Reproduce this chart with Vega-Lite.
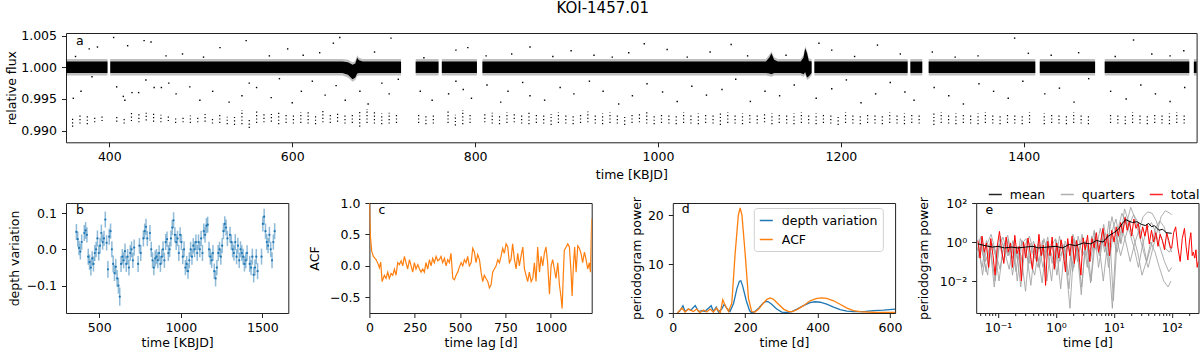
{
  "$schema": "https://vega.github.io/schema/vega-lite/v6.json",
  "background": "white",
  "padding": {"left": 5, "top": 0, "right": 0, "bottom": 0},
  "title": {"text": "KOI-1457.01", "fontSize": 15, "font": "DejaVu Sans", "fontWeight": "normal", "color": "black", "anchor": "middle", "offset": 13.2},
  "config": {
    "font": "DejaVu Sans",
    "view": {"stroke": "#222222", "strokeWidth": 1},
    "axis": {"grid": false, "domain": false, "ticks": true, "tickColor": "#222222", "tickSize": 4.5, "tickWidth": 1, "labelFontSize": 12.5, "labelColor": "black", "labelPadding": 3.5, "labelFlush": false, "labelOverlap": false, "titleFontSize": 12.5, "titleFontWeight": "normal", "titleColor": "black", "titlePadding": 3},
    "axisY": {"labelPadding": 5},
    "legend": {"labelFontSize": 12.5, "labelColor": "black", "symbolType": "stroke", "symbolSize": 169, "symbolStrokeWidth": 1.5, "labelOffset": 7}
  },
  "datasets": {
    "band": [
      {"s":1,"t":352.6,"lo":0.9991,"hi":1.0009,"l2":0.9987,"h2":1.0013},
      {"s":1,"t":398,"lo":0.9991,"hi":1.0009,"l2":0.9987,"h2":1.0013},
      {"s":2,"t":401,"lo":0.9991,"hi":1.0009,"l2":0.9987,"h2":1.0013},
      {"s":2,"t":655,"lo":0.9991,"hi":1.0009,"l2":0.9987,"h2":1.0013},
      {"s":2,"t":661,"lo":0.9988,"hi":1.0008,"l2":0.9984,"h2":1.0012},
      {"s":2,"t":666,"lo":0.9981,"hi":1.0004,"l2":0.9977,"h2":1.0008},
      {"s":2,"t":669,"lo":0.9984,"hi":1.0006,"l2":0.998,"h2":1.001},
      {"s":2,"t":671,"lo":0.999,"hi":1.0015,"l2":0.9986,"h2":1.0019},
      {"s":2,"t":673,"lo":0.9991,"hi":1.0011,"l2":0.9987,"h2":1.0015},
      {"s":2,"t":677,"lo":0.9991,"hi":1.0009,"l2":0.9987,"h2":1.0013},
      {"s":2,"t":719,"lo":0.9991,"hi":1.0009,"l2":0.9987,"h2":1.0013},
      {"s":3,"t":735,"lo":0.9991,"hi":1.0009,"l2":0.9987,"h2":1.0013},
      {"s":3,"t":760,"lo":0.9991,"hi":1.0009,"l2":0.9987,"h2":1.0013},
      {"s":4,"t":763.6,"lo":0.9991,"hi":1.0009,"l2":0.9987,"h2":1.0013},
      {"s":4,"t":802,"lo":0.9991,"hi":1.0009,"l2":0.9987,"h2":1.0013},
      {"s":5,"t":808,"lo":0.9991,"hi":1.0009,"l2":0.9987,"h2":1.0013},
      {"s":5,"t":1118,"lo":0.9991,"hi":1.0009,"l2":0.9987,"h2":1.0013},
      {"s":5,"t":1122,"lo":0.999,"hi":1.0016,"l2":0.9986,"h2":1.002},
      {"s":5,"t":1124,"lo":0.9989,"hi":1.0022,"l2":0.9985,"h2":1.0025},
      {"s":5,"t":1127,"lo":0.9991,"hi":1.0012,"l2":0.9987,"h2":1.0016},
      {"s":5,"t":1131,"lo":0.9991,"hi":1.0009,"l2":0.9987,"h2":1.0013},
      {"s":5,"t":1156,"lo":0.9991,"hi":1.0009,"l2":0.9987,"h2":1.0013},
      {"s":5,"t":1159,"lo":0.9989,"hi":1.0015,"l2":0.9985,"h2":1.0019},
      {"s":5,"t":1161,"lo":0.9992,"hi":1.003,"l2":0.9988,"h2":1.0033},
      {"s":5,"t":1163,"lo":0.9984,"hi":1.0022,"l2":0.998,"h2":1.0026},
      {"s":5,"t":1165,"lo":0.9986,"hi":1.001,"l2":0.9982,"h2":1.0014},
      {"s":5,"t":1168,"lo":0.9991,"hi":1.0009,"l2":0.9987,"h2":1.0013},
      {"s":6,"t":1171,"lo":0.9991,"hi":1.0009,"l2":0.9987,"h2":1.0013},
      {"s":6,"t":1273,"lo":0.9991,"hi":1.0009,"l2":0.9987,"h2":1.0013},
      {"s":7,"t":1276,"lo":0.9991,"hi":1.0009,"l2":0.9987,"h2":1.0013},
      {"s":7,"t":1289,"lo":0.9991,"hi":1.0009,"l2":0.9987,"h2":1.0013},
      {"s":8,"t":1296,"lo":0.9991,"hi":1.0009,"l2":0.9987,"h2":1.0013},
      {"s":8,"t":1412.6,"lo":0.9991,"hi":1.0009,"l2":0.9987,"h2":1.0013},
      {"s":9,"t":1417.5,"lo":0.9991,"hi":1.0009,"l2":0.9987,"h2":1.0013},
      {"s":9,"t":1478,"lo":0.9991,"hi":1.0009,"l2":0.9987,"h2":1.0013},
      {"s":10,"t":1488.5,"lo":0.9991,"hi":1.0009,"l2":0.9987,"h2":1.0013},
      {"s":10,"t":1581,"lo":0.9991,"hi":1.0009,"l2":0.9987,"h2":1.0013},
      {"s":11,"t":1586,"lo":0.9991,"hi":1.0009,"l2":0.9987,"h2":1.0013},
      {"s":11,"t":1589,"lo":0.9991,"hi":1.0009,"l2":0.9987,"h2":1.0013}
    ],
    "tr": [
      {"t":359.8,"lo":0.9906,"hi":0.9922,"d":0.048,"e":0.022},
      {"t":367.9,"lo":0.9911,"hi":0.9924,"d":0.028,"e":0.021},
      {"t":375.9,"lo":0.991,"hi":0.9926,"d":0.004,"e":0.02},
      {"t":384.0,"lo":0.9913,"hi":0.9921,"d":-0.006,"e":0.022},
      {"t":392.0,"lo":0.9915,"hi":0.9925,"d":0.02,"e":0.021},
      {"t":408.1,"lo":0.9914,"hi":0.9922,"d":0.045,"e":0.022},
      {"t":416.2,"lo":0.9911,"hi":0.992,"d":0.052,"e":0.023},
      {"t":424.2,"lo":0.9915,"hi":0.9929,"d":0.04,"e":0.021},
      {"t":432.3,"lo":0.9913,"hi":0.9927,"d":-0.02,"e":0.022},
      {"t":440.3,"lo":0.9916,"hi":0.9928,"d":-0.035,"e":0.021},
      {"t":448.4,"lo":0.9914,"hi":0.9927,"d":-0.05,"e":0.022},
      {"t":456.4,"lo":0.9913,"hi":0.9925,"d":-0.025,"e":0.02},
      {"t":464.5,"lo":0.9915,"hi":0.9924,"d":-0.04,"e":0.021},
      {"t":472.5,"lo":0.9912,"hi":0.9921,"d":-0.01,"e":0.022},
      {"t":480.6,"lo":0.9913,"hi":0.9922,"d":0.0,"e":0.021},
      {"t":488.6,"lo":0.9912,"hi":0.9924,"d":0.03,"e":0.022},
      {"t":496.7,"lo":0.9913,"hi":0.9921,"d":-0.01,"e":0.021},
      {"t":504.7,"lo":0.9914,"hi":0.9926,"d":0.01,"e":0.022},
      {"t":512.8,"lo":0.9911,"hi":0.9922,"d":0.045,"e":0.023},
      {"t":520.8,"lo":0.9912,"hi":0.9925,"d":0.02,"e":0.021},
      {"t":528.9,"lo":0.991,"hi":0.9922,"d":0.03,"e":0.021},
      {"t":536.9,"lo":0.9909,"hi":0.9922,"d":0.082,"e":0.022},
      {"t":545.0,"lo":0.991,"hi":0.9932,"d":0.018,"e":0.021},
      {"t":553.0,"lo":0.9904,"hi":0.9919,"d":-0.055,"e":0.023},
      {"t":561.1,"lo":0.9912,"hi":0.993,"d":0.035,"e":0.022},
      {"t":569.1,"lo":0.9913,"hi":0.9928,"d":0.05,"e":0.021},
      {"t":577.2,"lo":0.9914,"hi":0.9926,"d":0.0,"e":0.022},
      {"t":585.2,"lo":0.991,"hi":0.993,"d":-0.04,"e":0.023},
      {"t":593.3,"lo":0.9912,"hi":0.9927,"d":-0.065,"e":0.022},
      {"t":601.3,"lo":0.9911,"hi":0.9925,"d":-0.048,"e":0.022},
      {"t":609.4,"lo":0.9912,"hi":0.9929,"d":-0.08,"e":0.023},
      {"t":617.4,"lo":0.9911,"hi":0.9931,"d":-0.1,"e":0.022},
      {"t":625.5,"lo":0.991,"hi":0.9926,"d":-0.13,"e":0.025},
      {"t":633.5,"lo":0.9913,"hi":0.9932,"d":-0.04,"e":0.022},
      {"t":641.6,"lo":0.9912,"hi":0.9928,"d":-0.02,"e":0.021},
      {"t":649.6,"lo":0.9914,"hi":0.9929,"d":-0.03,"e":0.022},
      {"t":657.7,"lo":0.9911,"hi":0.9927,"d":-0.005,"e":0.021},
      {"t":665.7,"lo":0.9912,"hi":0.9926,"d":-0.04,"e":0.022},
      {"t":673.8,"lo":0.9906,"hi":0.993,"d":-0.02,"e":0.021},
      {"t":681.8,"lo":0.9912,"hi":0.9934,"d":-0.05,"e":0.022},
      {"t":689.9,"lo":0.9911,"hi":0.9929,"d":-0.01,"e":0.021},
      {"t":697.9,"lo":0.991,"hi":0.9927,"d":0.0,"e":0.022},
      {"t":706.0,"lo":0.9911,"hi":0.9928,"d":-0.03,"e":0.021},
      {"t":714.0,"lo":0.9912,"hi":0.9926,"d":0.005,"e":0.022},
      {"t":738.2,"lo":0.9912,"hi":0.9925,"d":-0.04,"e":0.022},
      {"t":746.2,"lo":0.991,"hi":0.9924,"d":0.01,"e":0.021},
      {"t":754.3,"lo":0.9911,"hi":0.9926,"d":-0.01,"e":0.022},
      {"t":770.4,"lo":0.9912,"hi":0.993,"d":0.03,"e":0.022},
      {"t":778.4,"lo":0.9908,"hi":0.9925,"d":0.05,"e":0.021},
      {"t":786.5,"lo":0.991,"hi":0.9932,"d":0.062,"e":0.022},
      {"t":794.5,"lo":0.9912,"hi":0.9928,"d":0.03,"e":0.021},
      {"t":810.6,"lo":0.9913,"hi":0.9927,"d":0.045,"e":0.022},
      {"t":818.7,"lo":0.9911,"hi":0.9928,"d":0.0,"e":0.021},
      {"t":826.7,"lo":0.991,"hi":0.9926,"d":-0.03,"e":0.022},
      {"t":834.8,"lo":0.9912,"hi":0.9929,"d":-0.05,"e":0.021},
      {"t":842.8,"lo":0.9913,"hi":0.9927,"d":-0.025,"e":0.022},
      {"t":850.9,"lo":0.9911,"hi":0.9926,"d":-0.02,"e":0.021},
      {"t":858.9,"lo":0.991,"hi":0.9928,"d":-0.03,"e":0.022},
      {"t":867.0,"lo":0.9912,"hi":0.9925,"d":-0.01,"e":0.021},
      {"t":875.0,"lo":0.9911,"hi":0.9927,"d":-0.04,"e":0.022},
      {"t":883.1,"lo":0.9909,"hi":0.9926,"d":-0.02,"e":0.021},
      {"t":891.1,"lo":0.9912,"hi":0.9929,"d":0.0,"e":0.022},
      {"t":899.2,"lo":0.9911,"hi":0.9927,"d":-0.03,"e":0.021},
      {"t":907.2,"lo":0.991,"hi":0.9925,"d":0.02,"e":0.022},
      {"t":915.3,"lo":0.9912,"hi":0.9928,"d":0.028,"e":0.021},
      {"t":923.3,"lo":0.9913,"hi":0.993,"d":-0.01,"e":0.022},
      {"t":931.4,"lo":0.9911,"hi":0.9926,"d":0.0,"e":0.021},
      {"t":939.4,"lo":0.991,"hi":0.9927,"d":0.03,"e":0.022},
      {"t":947.5,"lo":0.9912,"hi":0.9929,"d":0.06,"e":0.021},
      {"t":955.5,"lo":0.9911,"hi":0.9926,"d":0.08,"e":0.022},
      {"t":963.6,"lo":0.9909,"hi":0.9925,"d":0.04,"e":0.021},
      {"t":971.6,"lo":0.9912,"hi":0.9928,"d":0.02,"e":0.022},
      {"t":979.7,"lo":0.9913,"hi":0.9927,"d":0.03,"e":0.021},
      {"t":987.7,"lo":0.9911,"hi":0.9929,"d":-0.01,"e":0.022},
      {"t":995.8,"lo":0.991,"hi":0.9926,"d":0.04,"e":0.021},
      {"t":1003.8,"lo":0.9912,"hi":0.9928,"d":0.02,"e":0.022},
      {"t":1011.9,"lo":0.9911,"hi":0.9927,"d":-0.02,"e":0.021},
      {"t":1019.9,"lo":0.991,"hi":0.9925,"d":0.0,"e":0.022},
      {"t":1028.0,"lo":0.9912,"hi":0.9929,"d":-0.05,"e":0.021},
      {"t":1036.0,"lo":0.9911,"hi":0.9926,"d":-0.04,"e":0.022},
      {"t":1044.1,"lo":0.991,"hi":0.9927,"d":-0.06,"e":0.021},
      {"t":1052.1,"lo":0.9912,"hi":0.9928,"d":-0.03,"e":0.022},
      {"t":1060.2,"lo":0.9911,"hi":0.9926,"d":0.0,"e":0.021},
      {"t":1068.2,"lo":0.9909,"hi":0.9927,"d":-0.02,"e":0.022},
      {"t":1076.3,"lo":0.9912,"hi":0.9929,"d":0.01,"e":0.021},
      {"t":1084.3,"lo":0.9911,"hi":0.9925,"d":0.0,"e":0.022},
      {"t":1092.4,"lo":0.991,"hi":0.9927,"d":0.02,"e":0.021},
      {"t":1100.4,"lo":0.9912,"hi":0.9928,"d":-0.01,"e":0.022},
      {"t":1108.5,"lo":0.9911,"hi":0.9926,"d":0.02,"e":0.021},
      {"t":1116.5,"lo":0.9913,"hi":0.9929,"d":0.0,"e":0.022},
      {"t":1124.6,"lo":0.991,"hi":0.9927,"d":0.03,"e":0.021},
      {"t":1132.6,"lo":0.9912,"hi":0.9928,"d":-0.01,"e":0.022},
      {"t":1140.7,"lo":0.9911,"hi":0.9926,"d":0.05,"e":0.021},
      {"t":1148.7,"lo":0.991,"hi":0.9927,"d":0.04,"e":0.022},
      {"t":1156.8,"lo":0.9912,"hi":0.9929,"d":0.065,"e":0.021},
      {"t":1164.8,"lo":0.9911,"hi":0.9926,"d":0.068,"e":0.022},
      {"t":1172.9,"lo":0.991,"hi":0.9927,"d":0.0,"e":0.021},
      {"t":1180.9,"lo":0.9912,"hi":0.9928,"d":-0.02,"e":0.022},
      {"t":1189.0,"lo":0.9911,"hi":0.9926,"d":-0.03,"e":0.021},
      {"t":1197.0,"lo":0.9909,"hi":0.9925,"d":-0.01,"e":0.022},
      {"t":1205.1,"lo":0.9912,"hi":0.9929,"d":-0.06,"e":0.021},
      {"t":1213.1,"lo":0.9911,"hi":0.9927,"d":-0.08,"e":0.022},
      {"t":1221.2,"lo":0.991,"hi":0.9926,"d":-0.05,"e":0.021},
      {"t":1229.2,"lo":0.9912,"hi":0.9928,"d":-0.01,"e":0.022},
      {"t":1237.3,"lo":0.9911,"hi":0.9927,"d":0.0,"e":0.021},
      {"t":1245.3,"lo":0.991,"hi":0.9925,"d":-0.02,"e":0.022},
      {"t":1253.4,"lo":0.9912,"hi":0.9929,"d":0.01,"e":0.021},
      {"t":1261.4,"lo":0.9911,"hi":0.9926,"d":0.05,"e":0.022},
      {"t":1269.5,"lo":0.991,"hi":0.9927,"d":0.07,"e":0.021},
      {"t":1277.5,"lo":0.9912,"hi":0.9928,"d":0.06,"e":0.022},
      {"t":1285.6,"lo":0.9911,"hi":0.9926,"d":0.03,"e":0.021},
      {"t":1301.7,"lo":0.9909,"hi":0.9927,"d":0.04,"e":0.022},
      {"t":1309.7,"lo":0.9912,"hi":0.9929,"d":0.02,"e":0.021},
      {"t":1317.8,"lo":0.9911,"hi":0.9926,"d":0.0,"e":0.022},
      {"t":1325.8,"lo":0.991,"hi":0.9927,"d":-0.01,"e":0.021},
      {"t":1333.9,"lo":0.9912,"hi":0.9928,"d":0.02,"e":0.022},
      {"t":1341.9,"lo":0.9911,"hi":0.9926,"d":-0.02,"e":0.021},
      {"t":1350.0,"lo":0.991,"hi":0.9927,"d":0.01,"e":0.022},
      {"t":1358.0,"lo":0.9912,"hi":0.9929,"d":-0.03,"e":0.021},
      {"t":1366.1,"lo":0.9911,"hi":0.9926,"d":0.0,"e":0.022},
      {"t":1374.1,"lo":0.991,"hi":0.9925,"d":-0.01,"e":0.021},
      {"t":1382.2,"lo":0.9912,"hi":0.9928,"d":-0.02,"e":0.022},
      {"t":1390.2,"lo":0.9911,"hi":0.9927,"d":-0.04,"e":0.021},
      {"t":1398.3,"lo":0.991,"hi":0.9926,"d":-0.03,"e":0.022},
      {"t":1406.3,"lo":0.9912,"hi":0.9929,"d":-0.01,"e":0.021},
      {"t":1422.4,"lo":0.991,"hi":0.9927,"d":-0.04,"e":0.022},
      {"t":1430.5,"lo":0.9912,"hi":0.9928,"d":-0.05,"e":0.021},
      {"t":1438.5,"lo":0.9911,"hi":0.9926,"d":-0.02,"e":0.022},
      {"t":1446.6,"lo":0.991,"hi":0.9925,"d":-0.07,"e":0.021},
      {"t":1454.6,"lo":0.9912,"hi":0.9929,"d":-0.05,"e":0.022},
      {"t":1462.7,"lo":0.9911,"hi":0.9927,"d":-0.02,"e":0.021},
      {"t":1470.7,"lo":0.991,"hi":0.9926,"d":-0.06,"e":0.022},
      {"t":1494.9,"lo":0.9912,"hi":0.9928,"d":-0.02,"e":0.022},
      {"t":1502.9,"lo":0.9911,"hi":0.9927,"d":0.07,"e":0.021},
      {"t":1511.0,"lo":0.991,"hi":0.9926,"d":0.09,"e":0.022},
      {"t":1519.0,"lo":0.9912,"hi":0.9929,"d":0.05,"e":0.021},
      {"t":1527.1,"lo":0.9911,"hi":0.9927,"d":0.02,"e":0.022},
      {"t":1535.1,"lo":0.991,"hi":0.9925,"d":0.01,"e":0.021},
      {"t":1543.2,"lo":0.9912,"hi":0.9928,"d":0.04,"e":0.022},
      {"t":1551.2,"lo":0.9911,"hi":0.9926,"d":0.0,"e":0.021},
      {"t":1559.3,"lo":0.991,"hi":0.9927,"d":-0.03,"e":0.022},
      {"t":1567.3,"lo":0.9912,"hi":0.9929,"d":0.02,"e":0.021},
      {"t":1575.4,"lo":0.9911,"hi":0.9926,"d":0.05,"e":0.022}
    ],
    "out": [
      {"t":363,"f":1.0017},{"t":378,"f":1.0029},{"t":387,"f":1.0032},{"t":404.7,"f":1.0047},{"t":420,"f":1.0034},{"t":438,"f":1.0042},{"t":445.6,"f":1.004},{"t":462,"f":1.0018},{"t":480,"f":1.0021},{"t":503,"f":1.0016},{"t":521,"f":1.0031},{"t":549.6,"f":1.0042},{"t":575,"f":1.0018},{"t":595,"f":1.0029},{"t":612,"f":1.0019},{"t":630,"f":1.0023},{"t":645,"f":1.0038},{"t":652,"f":1.0047},{"t":690,"f":1.0024},{"t":708,"f":1.0046},{"t":744,"f":1.0015},{"t":779,"f":1.0027},{"t":792,"f":1.0031},{"t":812,"f":1.0018},{"t":840,"f":1.0021},{"t":860,"f":1.0032},{"t":885,"f":1.0017},{"t":905,"f":1.0026},{"t":930,"f":1.0019},{"t":950,"f":1.0016},{"t":968,"f":1.0023},{"t":985,"f":1.0037},{"t":1010,"f":1.0028},{"t":1032,"f":1.0016},{"t":1057,"f":1.0024},{"t":1080,"f":1.0036},{"t":1098,"f":1.0018},{"t":1140,"f":1.0019},{"t":1176,"f":1.0038},{"t":1190,"f":1.0027},{"t":1215,"f":1.0017},{"t":1240,"f":1.0035},{"t":1265,"f":1.0021},{"t":1300,"f":1.0024},{"t":1325,"f":1.0016},{"t":1350,"f":1.0018},{"t":1390,"f":1.0046},{"t":1405,"f":1.0022},{"t":1430,"f":1.0019},{"t":1460,"f":1.0023},{"t":1500,"f":1.0017},{"t":1520,"f":1.0043},{"t":1540,"f":1.0021},{"t":1560,"f":1.0018},{"t":1575,"f":1.0026},
      {"t":360.6,"f":0.9951},{"t":369,"f":0.9962},{"t":381,"f":0.9985},{"t":408,"f":0.9969},{"t":415.3,"f":0.9954},{"t":417,"f":0.9948},{"t":424.8,"f":0.996},{"t":432,"f":0.996},{"t":440,"f":0.998},{"t":449,"f":0.9968},{"t":456.9,"f":0.9968},{"t":465,"f":0.9975},{"t":473,"f":0.9958},{"t":488,"f":0.9969},{"t":499,"f":0.9948},{"t":513,"f":0.9962},{"t":531,"f":0.9945},{"t":545,"f":0.9955},{"t":553,"f":0.9975},{"t":561,"f":0.9968},{"t":577,"f":0.9952},{"t":586,"f":0.9982},{"t":600,"f":0.9944},{"t":610,"f":0.9962},{"t":622,"f":0.9978},{"t":636,"f":0.9956},{"t":648,"f":0.9971},{"t":658,"f":0.9948},{"t":674,"f":0.9962},{"t":683,"f":0.9942},{"t":698,"f":0.9975},{"t":706,"f":0.9958},{"t":716,"f":0.9981},{"t":740,"f":0.9962},{"t":753,"f":0.9948},{"t":771,"f":0.9958},{"t":779,"f":0.9978},{"t":787,"f":0.9965},{"t":796,"f":0.9951},{"t":813,"f":0.9972},{"t":828,"f":0.9945},{"t":836,"f":0.9962},{"t":852,"f":0.9976},{"t":860,"f":0.9955},{"t":876,"f":0.9948},{"t":893,"f":0.9968},{"t":908,"f":0.9958},{"t":925,"f":0.9978},{"t":940,"f":0.9962},{"t":957,"f":0.9942},{"t":972,"f":0.9955},{"t":988,"f":0.9974},{"t":1005,"f":0.9961},{"t":1021,"f":0.9946},{"t":1037,"f":0.997},{"t":1053,"f":0.9956},{"t":1070,"f":0.9965},{"t":1085,"f":0.9981},{"t":1101,"f":0.9946},{"t":1117,"f":0.9962},{"t":1133,"f":0.9955},{"t":1149,"f":0.9972},{"t":1173,"f":0.9951},{"t":1190,"f":0.9966},{"t":1206,"f":0.998},{"t":1222,"f":0.9944},{"t":1238,"f":0.9958},{"t":1254,"f":0.9976},{"t":1270,"f":0.9961},{"t":1280,"f":0.9948},{"t":1302,"f":0.9968},{"t":1318,"f":0.9955},{"t":1334,"f":0.9942},{"t":1351,"f":0.9974},{"t":1367,"f":0.9962},{"t":1383,"f":0.9951},{"t":1399,"f":0.9978},{"t":1423,"f":0.9958},{"t":1439,"f":0.9967},{"t":1455,"f":0.9945},{"t":1471,"f":0.9982},{"t":1495,"f":0.9962},{"t":1512,"f":0.995},{"t":1528,"f":0.9972},{"t":1544,"f":0.9958},{"t":1560,"f":0.9946},{"t":1576,"f":0.9968}
    ],
    "acf": [
      {"l":0,"a":1.0},{"l":5.5,"a":0.47},{"l":12.9,"a":0.23},{"l":22,"a":0.15},{"l":36.8,"a":0.1},{"l":49.6,"a":0.02},{"l":55,"a":-0.03},{"l":62.5,"a":0.06},{"l":69.9,"a":-0.25},{"l":82.7,"a":-0.15},{"l":91.9,"a":-0.2},{"l":101,"a":-0.1},{"l":110,"a":-0.2},{"l":119.5,"a":-0.12},{"l":128.7,"a":-0.15},{"l":137.9,"a":-0.05},{"l":147,"a":-0.15},{"l":156,"a":0.05},{"l":165,"a":0.02},{"l":175,"a":0.08},{"l":184,"a":0.0},{"l":193,"a":0.15},{"l":202,"a":0.05},{"l":211,"a":-0.05},{"l":221,"a":0.1},{"l":230,"a":0.0},{"l":239,"a":-0.1},{"l":248,"a":0.05},{"l":257,"a":-0.05},{"l":267,"a":0.02},{"l":276,"a":-0.05},{"l":285,"a":-0.1},{"l":294,"a":-0.05},{"l":303,"a":-0.1},{"l":312,"a":0.05},{"l":322,"a":-0.05},{"l":331,"a":0.1},{"l":340,"a":0.0},{"l":349,"a":0.12},{"l":358,"a":0.05},{"l":368,"a":0.15},{"l":377,"a":0.08},{"l":386,"a":0.1},{"l":395,"a":0.15},{"l":404,"a":0.05},{"l":414,"a":0.12},{"l":423,"a":0.0},{"l":432,"a":0.1},{"l":441,"a":0.05},{"l":450,"a":0.2},{"l":460,"a":-0.2},{"l":469,"a":-0.22},{"l":478,"a":-0.15},{"l":487,"a":-0.1},{"l":496,"a":-0.02},{"l":506,"a":0.05},{"l":515,"a":0.0},{"l":524,"a":0.1},{"l":533,"a":0.05},{"l":542,"a":0.15},{"l":551,"a":0.0},{"l":561,"a":0.05},{"l":570,"a":0.28},{"l":579,"a":0.22},{"l":588,"a":0.05},{"l":597,"a":0.18},{"l":607,"a":0.1},{"l":616,"a":-0.1},{"l":625,"a":-0.25},{"l":634,"a":-0.15},{"l":643,"a":-0.2},{"l":653,"a":-0.25},{"l":662,"a":-0.35},{"l":671,"a":-0.3},{"l":680,"a":-0.1},{"l":689,"a":-0.05},{"l":699,"a":0.0},{"l":708,"a":0.1},{"l":717,"a":0.05},{"l":726,"a":0.15},{"l":735,"a":0.28},{"l":744,"a":0.2},{"l":754,"a":0.35},{"l":763,"a":0.3},{"l":772,"a":0.05},{"l":781,"a":0.1},{"l":790,"a":0.35},{"l":800,"a":0.1},{"l":809,"a":-0.05},{"l":818,"a":0.2},{"l":827,"a":0.0},{"l":836,"a":0.15},{"l":846,"a":0.3},{"l":855,"a":-0.05},{"l":864,"a":-0.15},{"l":873,"a":-0.25},{"l":882,"a":-0.1},{"l":892,"a":-0.25},{"l":901,"a":-0.2},{"l":910,"a":0.05},{"l":919,"a":-0.25},{"l":928,"a":0.3},{"l":938,"a":-0.1},{"l":947,"a":0.15},{"l":956,"a":0.0},{"l":965,"a":0.2},{"l":974,"a":0.3},{"l":983,"a":0.05},{"l":993,"a":-0.45},{"l":1002,"a":0.0},{"l":1011,"a":0.1},{"l":1020,"a":-0.05},{"l":1029,"a":-0.2},{"l":1039,"a":0.05},{"l":1048,"a":-0.3},{"l":1057,"a":-0.5},{"l":1063,"a":-0.68},{"l":1070,"a":-0.1},{"l":1075,"a":0.25},{"l":1085,"a":0.3},{"l":1094,"a":0.35},{"l":1103,"a":0.3},{"l":1112,"a":-0.1},{"l":1118,"a":-0.48},{"l":1125,"a":0.0},{"l":1132,"a":0.3},{"l":1140,"a":-0.1},{"l":1149,"a":0.32},{"l":1158,"a":0.28},{"l":1167,"a":0.2},{"l":1176,"a":0.05},{"l":1186,"a":0.22},{"l":1195,"a":0.1},{"l":1204,"a":-0.05},{"l":1213,"a":0.05},{"l":1219,"a":-0.1},{"l":1226,"a":0.75}
    ],
    "pdv": [
      {"t":13,"p":0.0},{"t":20,"p":0.5},{"t":28,"p":1.5},{"t":34,"p":0.3},{"t":43,"p":0.8},{"t":50,"p":0.6},{"t":62,"p":1.5},{"t":71,"p":0.3},{"t":80,"p":0.5},{"t":89,"p":0.3},{"t":96,"p":0.8},{"t":106,"p":1.5},{"t":112,"p":0.3},{"t":120,"p":1.2},{"t":126,"p":0.2},{"t":135,"p":0.8},{"t":142,"p":1.8},{"t":149,"p":1.0},{"t":158,"p":0.3},{"t":168,"p":2.0},{"t":177,"p":5.0},{"t":184,"p":6.5},{"t":188,"p":6.6},{"t":193,"p":5.5},{"t":203,"p":2.5},{"t":212,"p":0.5},{"t":218,"p":0.0},{"t":227,"p":0.3},{"t":237,"p":1.0},{"t":249,"p":2.0},{"t":258,"p":2.4},{"t":264,"p":2.3},{"t":273,"p":1.8},{"t":287,"p":0.8},{"t":301,"p":0.2},{"t":315,"p":0.1},{"t":329,"p":0.3},{"t":343,"p":0.8},{"t":361,"p":1.5},{"t":379,"p":2.1},{"t":393,"p":2.3},{"t":407,"p":2.2},{"t":425,"p":1.8},{"t":444,"p":1.2},{"t":462,"p":0.7},{"t":481,"p":0.4},{"t":499,"p":0.3},{"t":527,"p":0.3},{"t":554,"p":0.5},{"t":582,"p":0.6},{"t":614,"p":0.8}
    ],
    "pacf": [
      {"t":13,"p":0.0},{"t":25,"p":1.0},{"t":34,"p":0.2},{"t":43,"p":0.8},{"t":57,"p":0.3},{"t":66,"p":0.8},{"t":75,"p":0.1},{"t":85,"p":0.6},{"t":94,"p":0.2},{"t":103,"p":0.8},{"t":112,"p":0.2},{"t":121,"p":1.0},{"t":131,"p":0.0},{"t":138,"p":2.7},{"t":145,"p":1.5},{"t":154,"p":0.3},{"t":163,"p":2.0},{"t":172,"p":12},{"t":181,"p":20},{"t":186,"p":21.5},{"t":191,"p":20},{"t":200,"p":12},{"t":209,"p":3},{"t":218,"p":0.3},{"t":227,"p":0.2},{"t":237,"p":0.8},{"t":250,"p":2.0},{"t":260,"p":2.8},{"t":269,"p":3.1},{"t":278,"p":2.8},{"t":292,"p":1.8},{"t":306,"p":0.8},{"t":320,"p":0.3},{"t":329,"p":0.3},{"t":343,"p":0.7},{"t":361,"p":1.5},{"t":379,"p":2.5},{"t":398,"p":3.0},{"t":412,"p":3.1},{"t":425,"p":3.0},{"t":444,"p":2.5},{"t":462,"p":1.8},{"t":481,"p":1.0},{"t":499,"p":0.5},{"t":517,"p":0.3},{"t":536,"p":0.2},{"t":564,"p":0.1},{"t":591,"p":0.1},{"t":614,"p":0.1}
    ],
    "eq": [
      {"q":1,"t":0.045,"p":0.5},{"q":1,"t":0.053,"p":0.05},{"q":1,"t":0.063,"p":1.2},{"q":1,"t":0.075,"p":0.3},{"q":1,"t":0.089,"p":0.01},{"q":1,"t":0.106,"p":0.8},{"q":1,"t":0.126,"p":0.1},{"q":1,"t":0.15,"p":1.5},{"q":1,"t":0.178,"p":0.02},{"q":1,"t":0.211,"p":0.6},{"q":1,"t":0.251,"p":0.2},{"q":1,"t":0.299,"p":0.003},{"q":1,"t":0.355,"p":0.9},{"q":1,"t":0.422,"p":0.15},{"q":1,"t":0.501,"p":1.0},{"q":1,"t":0.596,"p":0.05},{"q":1,"t":0.708,"p":0.5},{"q":1,"t":0.841,"p":0.01},{"q":1,"t":1.0,"p":1.3},{"q":1,"t":1.19,"p":0.2},{"q":1,"t":1.41,"p":0.6},{"q":1,"t":1.68,"p":0.004},{"q":1,"t":2.0,"p":1.5},{"q":1,"t":2.37,"p":0.1},{"q":1,"t":2.82,"p":2.5},{"q":1,"t":3.35,"p":0.3},{"q":1,"t":3.98,"p":0.008},{"q":1,"t":4.73,"p":3},{"q":1,"t":5.62,"p":0.2},{"q":1,"t":6.68,"p":8},{"q":1,"t":7.94,"p":0.5},{"q":1,"t":9.44,"p":0.0004},{"q":1,"t":11.2,"p":5},{"q":1,"t":13.3,"p":0.8},{"q":1,"t":15.8,"p":20},{"q":1,"t":18.8,"p":3},{"q":1,"t":22.4,"p":0.5},{"q":1,"t":26.6,"p":0.05},{"q":1,"t":31.6,"p":0.8},{"q":1,"t":37.6,"p":5},{"q":1,"t":44.7,"p":10},{"q":1,"t":53.1,"p":3},{"q":1,"t":63.1,"p":0.5},{"q":1,"t":75,"p":0.1},{"q":1,"t":89.1,"p":0.03},{"q":1,"t":100,"p":0.05},
      {"q":2,"t":0.047,"p":1.5},{"q":2,"t":0.055,"p":0.2},{"q":2,"t":0.066,"p":0.02},{"q":2,"t":0.078,"p":0.9},{"q":2,"t":0.093,"p":0.15},{"q":2,"t":0.11,"p":2.0},{"q":2,"t":0.131,"p":0.3},{"q":2,"t":0.156,"p":0.04},{"q":2,"t":0.185,"p":1.0},{"q":2,"t":0.219,"p":0.1},{"q":2,"t":0.261,"p":1.2},{"q":2,"t":0.311,"p":0.3},{"q":2,"t":0.369,"p":0.006},{"q":2,"t":0.439,"p":0.7},{"q":2,"t":0.521,"p":0.05},{"q":2,"t":0.62,"p":1.5},{"q":2,"t":0.736,"p":0.2},{"q":2,"t":0.875,"p":0.8},{"q":2,"t":1.04,"p":0.02},{"q":2,"t":1.24,"p":1.0},{"q":2,"t":1.47,"p":0.1},{"q":2,"t":1.75,"p":0.0004},{"q":2,"t":2.08,"p":1.2},{"q":2,"t":2.46,"p":0.3},{"q":2,"t":2.93,"p":1.8},{"q":2,"t":3.48,"p":0.05},{"q":2,"t":4.14,"p":2.0},{"q":2,"t":4.92,"p":0.4},{"q":2,"t":5.84,"p":5},{"q":2,"t":6.95,"p":0.3},{"q":2,"t":8.26,"p":12},{"q":2,"t":9.82,"p":0.001},{"q":2,"t":11.7,"p":4},{"q":2,"t":13.8,"p":30},{"q":2,"t":16.4,"p":8},{"q":2,"t":19.6,"p":60},{"q":2,"t":23.3,"p":15},{"q":2,"t":27.7,"p":2},{"q":2,"t":32.9,"p":0.3},{"q":2,"t":39.1,"p":0.05},{"q":2,"t":46.5,"p":0.4},{"q":2,"t":55.2,"p":3},{"q":2,"t":65.6,"p":20},{"q":2,"t":78,"p":40},{"q":2,"t":92.7,"p":30},{"q":2,"t":100,"p":25},
      {"q":3,"t":0.043,"p":0.3},{"q":3,"t":0.051,"p":2.0},{"q":3,"t":0.061,"p":0.1},{"q":3,"t":0.073,"p":0.6},{"q":3,"t":0.086,"p":0.005},{"q":3,"t":0.103,"p":0.5},{"q":3,"t":0.122,"p":1.8},{"q":3,"t":0.146,"p":0.2},{"q":3,"t":0.173,"p":0.6},{"q":3,"t":0.205,"p":0.03},{"q":3,"t":0.243,"p":1.5},{"q":3,"t":0.29,"p":0.4},{"q":3,"t":0.344,"p":0.08},{"q":3,"t":0.409,"p":1.1},{"q":3,"t":0.486,"p":0.2},{"q":3,"t":0.578,"p":0.008},{"q":3,"t":0.687,"p":0.9},{"q":3,"t":0.816,"p":0.3},{"q":3,"t":0.97,"p":0.05},{"q":3,"t":1.15,"p":2},{"q":3,"t":1.37,"p":0.15},{"q":3,"t":1.63,"p":0.9},{"q":3,"t":1.94,"p":0.03},{"q":3,"t":2.3,"p":0.5},{"q":3,"t":2.74,"p":0.002},{"q":3,"t":3.25,"p":1.0},{"q":3,"t":3.86,"p":0.3},{"q":3,"t":4.59,"p":4},{"q":3,"t":5.45,"p":0.05},{"q":3,"t":6.48,"p":1.5},{"q":3,"t":7.7,"p":0.2},{"q":3,"t":9.16,"p":3},{"q":3,"t":10.9,"p":15},{"q":3,"t":12.9,"p":1},{"q":3,"t":15.3,"p":50},{"q":3,"t":18.2,"p":10},{"q":3,"t":21.7,"p":2},{"q":3,"t":25.8,"p":0.3},{"q":3,"t":30.7,"p":0.02},{"q":3,"t":36.5,"p":0.1},{"q":3,"t":43.4,"p":1},{"q":3,"t":51.5,"p":0.3},{"q":3,"t":61.2,"p":0.05},{"q":3,"t":72.8,"p":0.01},{"q":3,"t":86.4,"p":0.005},{"q":3,"t":97,"p":0.01},
      {"q":4,"t":0.046,"p":0.9},{"q":4,"t":0.054,"p":0.02},{"q":4,"t":0.064,"p":0.7},{"q":4,"t":0.076,"p":2.5},{"q":4,"t":0.091,"p":0.3},{"q":4,"t":0.108,"p":0.04},{"q":4,"t":0.128,"p":0.9},{"q":4,"t":0.153,"p":0.2},{"q":4,"t":0.182,"p":1.2},{"q":4,"t":0.215,"p":0.01},{"q":4,"t":0.256,"p":0.8},{"q":4,"t":0.305,"p":1.5},{"q":4,"t":0.362,"p":0.1},{"q":4,"t":0.43,"p":0.02},{"q":4,"t":0.511,"p":0.7},{"q":4,"t":0.608,"p":0.2},{"q":4,"t":0.722,"p":1.8},{"q":4,"t":0.858,"p":0.08},{"q":4,"t":1.02,"p":0.5},{"q":4,"t":1.21,"p":0.004},{"q":4,"t":1.44,"p":1.1},{"q":4,"t":1.71,"p":0.3},{"q":4,"t":2.04,"p":0.05},{"q":4,"t":2.42,"p":2.0},{"q":4,"t":2.88,"p":0.2},{"q":4,"t":3.42,"p":0.8},{"q":4,"t":4.06,"p":0.01},{"q":4,"t":4.82,"p":1.5},{"q":4,"t":5.73,"p":0.4},{"q":4,"t":6.81,"p":3},{"q":4,"t":8.1,"p":0.05},{"q":4,"t":9.63,"p":2},{"q":4,"t":11.4,"p":0.3},{"q":4,"t":13.6,"p":6},{"q":4,"t":16.1,"p":1},{"q":4,"t":19.2,"p":0.1},{"q":4,"t":22.8,"p":0.8},{"q":4,"t":27.1,"p":4},{"q":4,"t":32.2,"p":20},{"q":4,"t":38.3,"p":35},{"q":4,"t":45.6,"p":30},{"q":4,"t":54.2,"p":12},{"q":4,"t":64.4,"p":2},{"q":4,"t":76.5,"p":0.5},{"q":4,"t":90.9,"p":0.3},{"q":4,"t":100,"p":0.5},
      {"q":5,"t":0.045,"p":0.15},{"q":5,"t":0.052,"p":0.8},{"q":5,"t":0.062,"p":0.03},{"q":5,"t":0.074,"p":1.1},{"q":5,"t":0.088,"p":0.4},{"q":5,"t":0.104,"p":0.01},{"q":5,"t":0.124,"p":0.6},{"q":5,"t":0.147,"p":2.2},{"q":5,"t":0.175,"p":0.15},{"q":5,"t":0.208,"p":0.5},{"q":5,"t":0.247,"p":0.005},{"q":5,"t":0.294,"p":0.7},{"q":5,"t":0.349,"p":2.0},{"q":5,"t":0.415,"p":0.3},{"q":5,"t":0.493,"p":0.05},{"q":5,"t":0.586,"p":1.2},{"q":5,"t":0.697,"p":0.01},{"q":5,"t":0.828,"p":0.6},{"q":5,"t":0.985,"p":1.5},{"q":5,"t":1.17,"p":0.1},{"q":5,"t":1.39,"p":0.8},{"q":5,"t":1.65,"p":0.02},{"q":5,"t":1.96,"p":2.5},{"q":5,"t":2.33,"p":0.5},{"q":5,"t":2.77,"p":0.005},{"q":5,"t":3.3,"p":1.2},{"q":5,"t":3.92,"p":0.1},{"q":5,"t":4.66,"p":2},{"q":5,"t":5.54,"p":0.8},{"q":5,"t":6.58,"p":0.01},{"q":5,"t":7.82,"p":1},{"q":5,"t":9.29,"p":20},{"q":5,"t":11.0,"p":2},{"q":5,"t":13.1,"p":0.2},{"q":5,"t":15.6,"p":1.5},{"q":5,"t":18.5,"p":8},{"q":5,"t":22.0,"p":25},{"q":5,"t":26.2,"p":10},{"q":5,"t":31.1,"p":1.5},{"q":5,"t":37.0,"p":0.1},{"q":5,"t":44.0,"p":0.6},{"q":5,"t":52.3,"p":5},{"q":5,"t":62.2,"p":12},{"q":5,"t":74,"p":6},{"q":5,"t":88,"p":1},{"q":5,"t":100,"p":0.3}
    ],
    "et": [
      {"t":0.045,"p":1.2},{"t":0.049,"p":0.15},{"t":0.053,"p":2.0},{"t":0.058,"p":0.3},{"t":0.063,"p":0.9},{"t":0.069,"p":0.05},{"t":0.075,"p":1.5},{"t":0.082,"p":0.2},{"t":0.089,"p":0.02},{"t":0.097,"p":0.6},{"t":0.106,"p":3.5},{"t":0.115,"p":0.4},{"t":0.126,"p":0.08},{"t":0.138,"p":1.8},{"t":0.15,"p":0.3},{"t":0.164,"p":0.9},{"t":0.178,"p":0.05},{"t":0.195,"p":2.2},{"t":0.212,"p":0.25},{"t":0.232,"p":0.6},{"t":0.253,"p":0.01},{"t":0.276,"p":1.0},{"t":0.301,"p":0.15},{"t":0.329,"p":1.6},{"t":0.359,"p":0.3},{"t":0.392,"p":0.04},{"t":0.427,"p":0.8},{"t":0.467,"p":0.1},{"t":0.509,"p":2.5},{"t":0.556,"p":0.2},{"t":0.607,"p":0.7},{"t":0.663,"p":0.006},{"t":0.724,"p":1.1},{"t":0.79,"p":0.2},{"t":0.862,"p":1.8},{"t":0.941,"p":0.04},{"t":1.03,"p":0.9},{"t":1.12,"p":0.15},{"t":1.23,"p":1.3},{"t":1.34,"p":0.3},{"t":1.46,"p":0.03},{"t":1.6,"p":1.5},{"t":1.74,"p":0.2},{"t":1.9,"p":2.0},{"t":2.08,"p":0.08},{"t":2.27,"p":1.2},{"t":2.48,"p":0.3},{"t":2.7,"p":0.02},{"t":2.95,"p":1.6},{"t":3.22,"p":0.4},{"t":3.52,"p":2.2},{"t":3.84,"p":0.1},{"t":4.19,"p":1.5},{"t":4.58,"p":0.5},{"t":5.0,"p":3.0},{"t":5.45,"p":0.3},{"t":5.95,"p":1.2},{"t":6.5,"p":5.0},{"t":7.1,"p":0.6},{"t":7.75,"p":2.5},{"t":8.45,"p":0.2},{"t":9.2,"p":4.0},{"t":10.1,"p":1.0},{"t":11.0,"p":6.0},{"t":12.0,"p":2.0},{"t":13.1,"p":10},{"t":14.3,"p":3},{"t":15.6,"p":18},{"t":17.0,"p":4},{"t":18.6,"p":12},{"t":20.3,"p":2},{"t":22.2,"p":15},{"t":24.2,"p":5},{"t":26.4,"p":9},{"t":28.8,"p":1.5},{"t":31.5,"p":6},{"t":34.4,"p":2},{"t":37.5,"p":8},{"t":41,"p":0.8},{"t":44.7,"p":4},{"t":48.8,"p":1},{"t":53,"p":3},{"t":58,"p":0.6},{"t":63,"p":2.5},{"t":69,"p":1.2},{"t":75,"p":0.4},{"t":82,"p":3},{"t":89,"p":1.2},{"t":95,"p":0.5},{"t":100,"p":0.5},{"t":108,"p":3},{"t":117,"p":6},{"t":128,"p":0.5},{"t":140,"p":0.1},{"t":152,"p":1.5},{"t":166,"p":5},{"t":178,"p":0.5},{"t":190,"p":0.12},{"t":202,"p":1.0},{"t":214,"p":3},{"t":226,"p":0.2},{"t":236,"p":0.3},{"t":250,"p":0.15},{"t":262,"p":0.4},{"t":275,"p":0.05},{"t":288,"p":0.1}
    ],
    "em": [
      {"t":0.045,"p":0.8},{"t":0.06,"p":0.65},{"t":0.08,"p":0.55},{"t":0.1,"p":0.6},{"t":0.13,"p":0.5},{"t":0.17,"p":0.55},{"t":0.22,"p":0.5},{"t":0.3,"p":0.55},{"t":0.4,"p":0.6},{"t":0.5,"p":0.5},{"t":0.7,"p":0.55},{"t":1.0,"p":0.6},{"t":1.3,"p":0.5},{"t":1.7,"p":0.75},{"t":2.2,"p":0.65},{"t":3,"p":0.9},{"t":4,"p":0.8},{"t":5,"p":1.2},{"t":6.5,"p":1.0},{"t":8,"p":2.0},{"t":10,"p":3.0},{"t":12,"p":4.5},{"t":14,"p":9},{"t":16,"p":14},{"t":18,"p":12},{"t":21,"p":10},{"t":25,"p":11},{"t":30,"p":8},{"t":35,"p":7},{"t":40,"p":9},{"t":45,"p":6},{"t":50,"p":7},{"t":60,"p":4},{"t":70,"p":4.5},{"t":80,"p":3},{"t":100,"p":2.8}
    ]
  },
  "vconcat": [
    {
      "width": 1130.6,
      "height": 109.3,
      "layer": [
        {
          "data": {"name": "band"},
          "mark": {"type": "area", "color": "black", "opacity": 0.25},
          "encoding": {
            "x": {"field": "t", "type": "quantitative", "scale": {"domain": [352.6, 1589], "nice": false, "zero": false}, "axis": {"values": [400, 600, 800, 1000, 1200, 1400], "tickCount": 50, "format": "d", "labelOverlap": false, "titlePadding": 5.5, "title": "time [KBJD]"}},
            "y": {"field": "l2", "type": "quantitative", "scale": {"domain": [0.98815, 1.00541], "nice": false, "zero": false}, "axis": {"values": [0.99, 0.995, 1.0, 1.005], "tickCount": 50, "format": ".3f", "labelOverlap": false, "titlePadding": 2, "title": "relative flux"}},
            "y2": {"field": "h2"},
            "detail": {"field": "s", "type": "nominal"}
          }
        },
        {
          "data": {"name": "band"},
          "mark": {"type": "area", "color": "black", "opacity": 1},
          "encoding": {
            "x": {"field": "t", "type": "quantitative"},
            "y": {"field": "lo", "type": "quantitative"},
            "y2": {"field": "hi"},
            "detail": {"field": "s", "type": "nominal"}
          }
        },
        {
          "data": {"name": "tr"},
          "mark": {"type": "rule", "color": "black", "strokeWidth": 1.2, "strokeDash": [1.2, 2.2]},
          "encoding": {
            "x": {"field": "t", "type": "quantitative"},
            "y": {"field": "lo", "type": "quantitative"},
            "y2": {"field": "hi"}
          }
        },
        {
          "data": {"name": "out"},
          "mark": {"type": "square", "color": "black", "size": 2, "opacity": 1},
          "encoding": {
            "x": {"field": "t", "type": "quantitative"},
            "y": {"field": "f", "type": "quantitative"}
          }
        },
        {
          "data": {"values": [{}]},
          "mark": {"type": "text", "text": "a", "align": "left", "baseline": "middle", "fontSize": 12.5, "color": "black"},
          "encoding": {
            "x": {"datum": 363.5, "type": "quantitative"},
            "y": {"datum": 1.0042, "type": "quantitative"}
          }
        }
      ]
    },
    {
      "hconcat": [
        {
          "width": 222.3,
          "height": 110,
          "layer": [
            {
              "data": {"name": "tr"},
              "mark": {"type": "errorbar", "color": "#1f77b4", "opacity": 0.5, "thickness": 1.5},
              "encoding": {
                "x": {"field": "t", "type": "quantitative", "scale": {"domain": [296, 1659], "nice": false, "zero": false}, "axis": {"values": [500, 1000, 1500], "tickCount": 50, "format": "d", "labelOverlap": false, "title": "time [KBJD]"}},
                "y": {"field": "d", "type": "quantitative", "scale": {"domain": [-0.175, 0.1275], "nice": false, "zero": false}, "axis": {"values": [-0.1, 0, 0.1], "tickCount": 50, "format": ".1f", "labelOverlap": false, "titlePadding": 5, "title": "depth variation"}},
                "yError": {"field": "e"}
              }
            },
            {
              "data": {"name": "tr"},
              "mark": {"type": "circle", "color": "#1f77b4", "size": 5, "opacity": 1},
              "encoding": {
                "x": {"field": "t", "type": "quantitative"},
                "y": {"field": "d", "type": "quantitative"}
              }
            },
            {
              "data": {"values": [{}]},
              "mark": {"type": "text", "text": "b", "align": "left", "baseline": "middle", "fontSize": 12.5, "color": "black"},
              "encoding": {
                "x": {"datum": 357, "type": "quantitative"},
                "y": {"datum": 0.109, "type": "quantitative"}
              }
            }
          ]
        },
        {
          "width": 222.3,
          "height": 110,
          "layer": [
            {
              "data": {"name": "acf"},
              "mark": {"type": "line", "color": "#ff7f0e", "strokeWidth": 1.2, "clip": true},
              "encoding": {
                "x": {"field": "l", "type": "quantitative", "scale": {"domain": [0, 1226], "nice": false, "zero": false}, "axis": {"values": [0, 250, 500, 750, 1000], "tickCount": 50, "format": "d", "labelOverlap": false, "title": "time lag [d]"}},
                "y": {"field": "a", "type": "quantitative", "scale": {"domain": [-0.75, 1.0], "nice": false, "zero": false}, "axis": {"values": [-0.5, 0, 0.5, 1.0], "tickCount": 50, "format": ".1f", "labelOverlap": false, "titlePadding": 8, "title": "ACF"}}
              }
            },
            {
              "data": {"values": [{}]},
              "mark": {"type": "text", "text": "c", "align": "left", "baseline": "middle", "fontSize": 12.5, "color": "black"},
              "encoding": {
                "x": {"datum": 50, "type": "quantitative"},
                "y": {"datum": 0.89, "type": "quantitative"}
              }
            }
          ]
        },
        {
          "width": 222.3,
          "height": 110,
          "layer": [
            {
              "data": {"name": "pdv"},
              "mark": {"type": "line", "strokeWidth": 1.3, "clip": true},
              "encoding": {
                "x": {"field": "t", "type": "quantitative", "scale": {"domain": [0, 614], "nice": false, "zero": false}, "axis": {"values": [0, 200, 400, 600], "tickCount": 50, "format": "d", "labelOverlap": false, "title": "time [d]"}},
                "y": {"field": "p", "type": "quantitative", "scale": {"domain": [0, 22.5], "nice": false, "zero": false}, "axis": {"values": [0, 10, 20], "tickCount": 50, "format": "d", "labelOverlap": false, "titlePadding": 4, "title": "periodogram power"}},
                "color": {"datum": "depth variation", "type": "nominal", "scale": {"domain": ["depth variation", "ACF"], "range": ["#1f77b4", "#ff7f0e"]}, "legend": {"orient": "none", "legendX": 81, "legendY": 5, "title": null, "fillColor": "white", "strokeColor": "#d0d0d0", "cornerRadius": 3, "padding": 5, "rowPadding": 5, "labelOffset": 8}}
              }
            },
            {
              "data": {"name": "pacf"},
              "mark": {"type": "line", "strokeWidth": 1.3, "clip": true},
              "encoding": {
                "x": {"field": "t", "type": "quantitative"},
                "y": {"field": "p", "type": "quantitative"},
                "color": {"datum": "ACF", "type": "nominal"}
              }
            },
            {
              "data": {"values": [{}]},
              "mark": {"type": "text", "text": "d", "align": "left", "baseline": "middle", "fontSize": 12.5, "color": "black"},
              "encoding": {
                "x": {"datum": 25, "type": "quantitative"},
                "y": {"datum": 21.3, "type": "quantitative"}
              }
            }
          ]
        },
        {
          "width": 222.3,
          "height": 110,
          "layer": [
            {
              "data": {"name": "eq"},
              "mark": {"type": "line", "strokeWidth": 1, "opacity": 0.85, "clip": true},
              "encoding": {
                "x": {"field": "t", "type": "quantitative", "scale": {"type": "log", "domain": [0.042, 290], "nice": false}, "axis": {"values": [0.05, 0.06, 0.07, 0.08, 0.09, 0.1, 0.2, 0.3, 0.4, 0.5, 0.6, 0.7, 0.8, 0.9, 1, 2, 3, 4, 5, 6, 7, 8, 9, 10, 20, 30, 40, 50, 60, 70, 80, 90, 100, 200], "tickCount": 200, "labelOverlap": false, "labelExpr": "datum.value == 0.1 ? '10⁻¹' : datum.value == 1 ? '10⁰' : datum.value == 10 ? '10¹' : datum.value == 100 ? '10²' : ''", "tickSize": {"condition": {"test": "datum.value == 0.1 || datum.value == 1 || datum.value == 10 || datum.value == 100", "value": 4.5}, "value": 2.5}, "title": "time [d]"}},
                "y": {"field": "p", "type": "quantitative", "scale": {"type": "log", "domain": [0.00023, 100], "nice": false}, "axis": {"values": [0.01, 1, 100], "tickCount": 50, "labelOverlap": false, "labelExpr": "datum.value == 100 ? '10²' : datum.value == 1 ? '10⁰' : '10⁻²'", "titlePadding": 9, "title": "periodogram power"}},
                "detail": {"field": "q", "type": "nominal"},
                "color": {"datum": "quarters", "type": "nominal", "scale": {"domain": ["mean", "quarters", "total"], "range": ["black", "#a0a0a0", "red"]}, "legend": {"orient": "none", "legendX": 11.6, "legendY": -16, "direction": "horizontal", "title": null, "columnPadding": 12, "labelOffset": 7, "padding": 0}}
              }
            },
            {
              "data": {"name": "et"},
              "mark": {"type": "line", "strokeWidth": 1, "clip": true},
              "encoding": {
                "x": {"field": "t", "type": "quantitative"},
                "y": {"field": "p", "type": "quantitative"},
                "color": {"datum": "total", "type": "nominal"}
              }
            },
            {
              "data": {"name": "em"},
              "mark": {"type": "line", "strokeWidth": 1, "clip": true},
              "encoding": {
                "x": {"field": "t", "type": "quantitative"},
                "y": {"field": "p", "type": "quantitative"},
                "color": {"datum": "mean", "type": "nominal"}
              }
            },
            {
              "data": {"values": [{}]},
              "mark": {"type": "text", "text": "e", "align": "left", "baseline": "middle", "fontSize": 12.5, "color": "black"},
              "encoding": {
                "x": {"datum": 0.0608, "type": "quantitative"},
                "y": {"datum": 42.3, "type": "quantitative"}
              }
            }
          ]
        }
      ],
      "spacing": 80.4,
      "bounds": "flush",
      "resolve": {"scale": {"color": "independent"}, "legend": {"color": "independent"}}
    }
  ],
  "spacing": 60,
  "bounds": "flush"
}
